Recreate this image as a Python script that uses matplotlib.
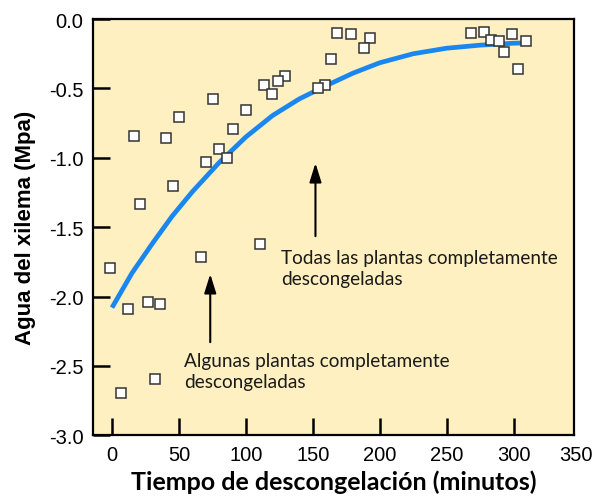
import matplotlib
matplotlib.use('Agg')
import matplotlib.pyplot as plt
from matplotlib.transforms import offset_copy

# Measured points (minutes, MPa)
time_min = [168, 163.5, 129.4, 124, 113.2, 119.7, 159, 154, 75.2, 99.8, 49.8, 90.1,
            16.7, 40.6, 79.9, 85.6, 70.2, 45.8, 21.2, 110.7, 66.5, -1.7, 11.7, 26.9,
            36.1, 32.4, 6.8, 178.7, 192.8, 188.4, 268.4, 278.1, 283.1, 288.9, 298.6,
            309, 292.8, 303]
xylem_water = [-0.101, -0.291, -0.413, -0.445, -0.476, -0.539, -0.476, -0.50, -0.577,
               -0.658, -0.704, -0.791, -0.841, -0.86, -0.935, -1.0, -1.029, -1.202,
               -1.334, -1.624, -1.716, -1.793, -2.091, -2.04, -2.053, -2.596, -2.694,
               -0.108, -0.137, -0.211, -0.099, -0.092, -0.149, -0.156, -0.108, -0.159,
               -0.24, -0.36]

# Fitted trend line
fit_x = [0, 15, 30, 45, 60, 80, 100, 120, 140, 160, 180, 200, 225, 250, 275, 300, 308]
fit_y = [-2.08, -1.83, -1.62, -1.42, -1.245, -1.035, -0.85, -0.695, -0.575, -0.48,
         -0.39, -0.315, -0.25, -0.21, -0.188, -0.174, -0.172]

x_ticks = [0, 50, 100, 150, 200, 250, 300]
y_ticks = [0.0, -0.5, -1.0, -1.5, -2.0, -2.5, -3.0]

fig = plt.figure(figsize=(5.94, 5.02), dpi=100)
ax = fig.add_axes([0.157, 0.131, 0.809, 0.829])
ax.set_facecolor('#fff0c1')

ax.plot(fit_x, fit_y, color='#1a86f0', linewidth=3.4, solid_capstyle='butt', zorder=2)
ax.plot(time_min, xylem_water, linestyle='none', marker='s', markersize=7.5,
        markerfacecolor='white', markeredgecolor='#333333', markeredgewidth=1.1, zorder=3)

ax.set_xlim(-14, 345)
ax.set_ylim(-3.0, 0.0)
ax.set_xticks(x_ticks)
ax.set_yticks(y_ticks)
ax.set_yticklabels([f'{v:.1f}' for v in y_ticks])
ax.tick_params(direction='in', length=12, width=1.8, color='black', labelsize=14.5, pad=7)
for lab in ax.get_xticklabels() + ax.get_yticklabels():
    lab.set_fontfamily('Liberation Sans')

# the 350 label sits just past the right edge of the frame, with no tick mark
below = offset_copy(ax.get_xaxis_transform(), fig=fig, y=-7, units='points')
ax.text(346.5, 0, '350', transform=below, ha='center', va='top',
        fontsize=14.5, family='Liberation Sans', clip_on=False)

for side in ax.spines.values():
    side.set_linewidth(1.6)

ax.set_xlabel('Tiempo de descongelación (minutos)', fontsize=18, family='Lato',
              fontweight='bold', labelpad=4)
ax.set_ylabel('Agua del xilema (Mpa)', fontsize=16, family='Liberation Sans',
              fontweight='bold', labelpad=9)

arrow = dict(arrowstyle='-|>,head_length=1.15,head_width=0.36', color='black',
             lw=1.5, shrinkA=0, shrinkB=0, mutation_scale=10)
ax.annotate('', xy=(152, -1.038), xytext=(152, -1.565), arrowprops=arrow)
ax.annotate('', xy=(73.4, -1.838), xytext=(73.4, -2.329), arrowprops=arrow)

ax.text(126.6, -1.795, 'Todas las plantas completamente\ndescongeladas', fontsize=13.7,
        family='Lato', ha='left', va='center', color='#1a1a1a', linespacing=1.25)
ax.text(54.1, -2.538, 'Algunas plantas completamente\ndescongeladas', fontsize=13.7,
        family='Lato', ha='left', va='center', color='#1a1a1a', linespacing=1.25)

fig.savefig('out.png', dpi=100)
